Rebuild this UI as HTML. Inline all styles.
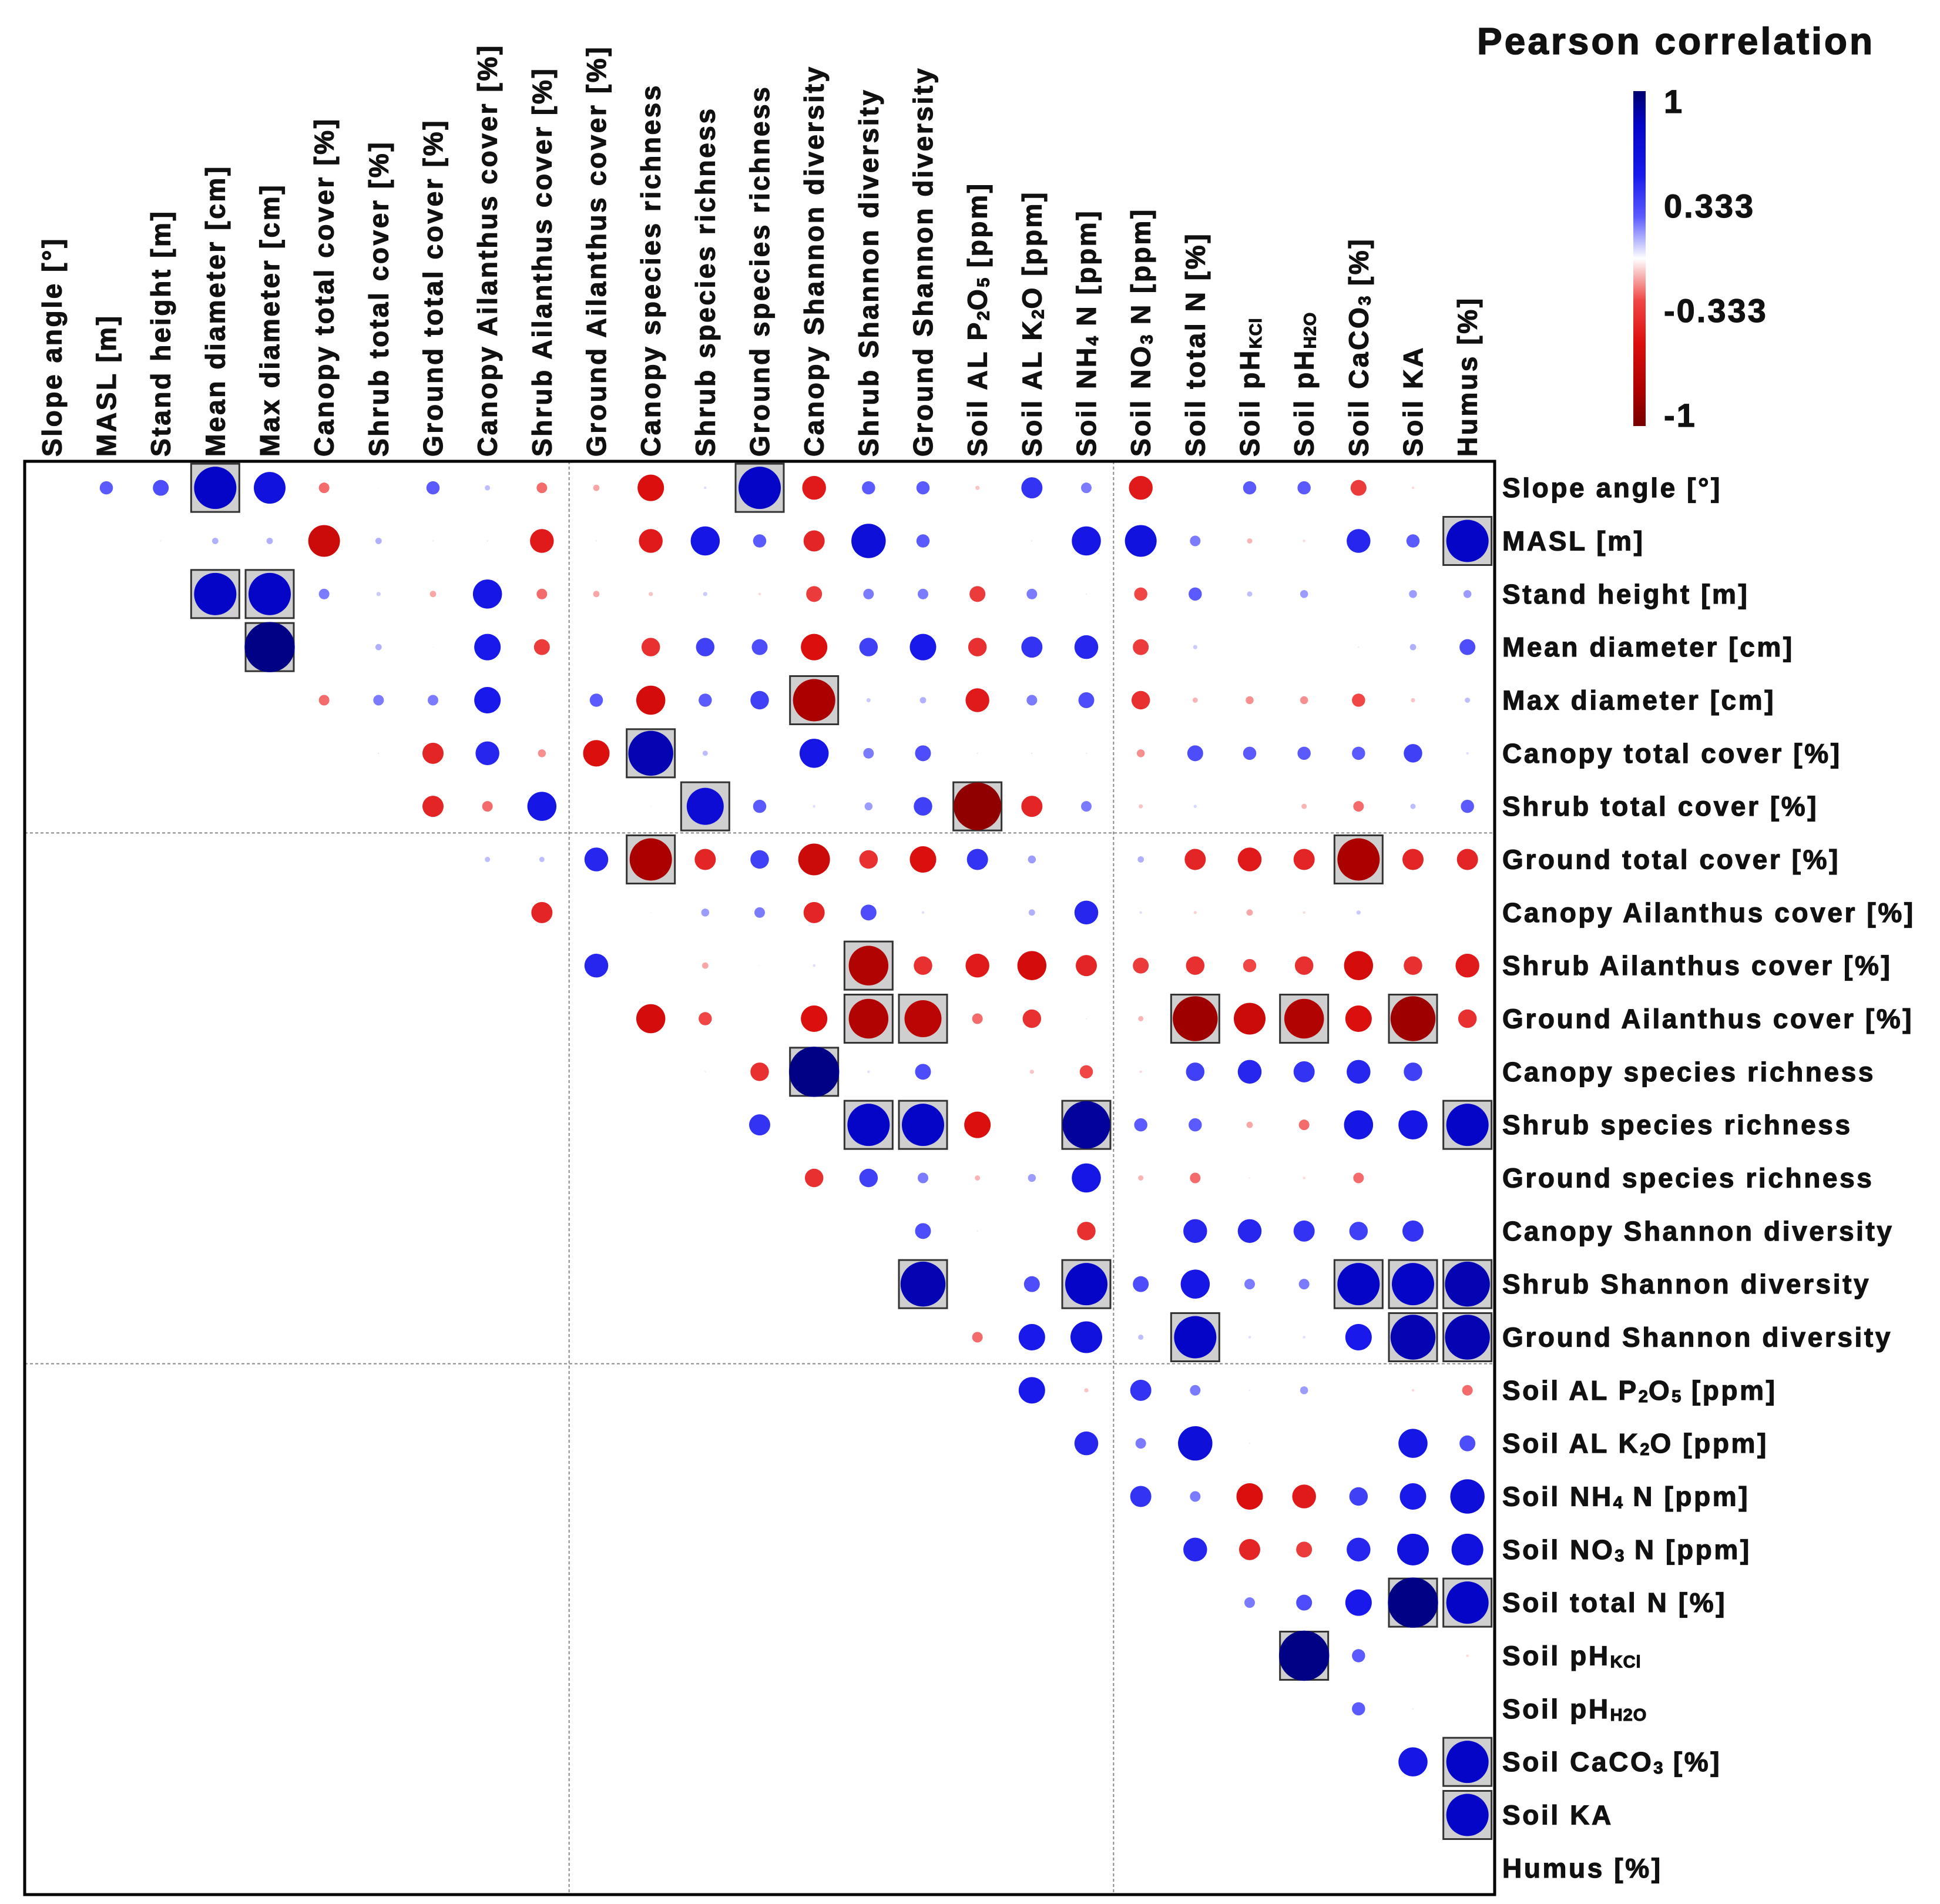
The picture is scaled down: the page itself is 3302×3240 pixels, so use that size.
<!DOCTYPE html>
<html><head><meta charset="utf-8"><style>
html,body{margin:0;padding:0;background:#fff;}
svg{display:block;font-family:"Liberation Sans",Arial,sans-serif;font-weight:bold;}
</style></head><body>
<svg id="chart" width="3302" height="3240" viewBox="0 0 3302 3240" xmlns="http://www.w3.org/2000/svg"></svg>
<script>
// variable labels (parts: [text, isSub])
const labels = [
 [["Slope angle [°]",0]],[["MASL [m]",0]],[["Stand height [m]",0]],[["Mean diameter [cm]",0]],
 [["Max diameter [cm]",0]],[["Canopy total cover [%]",0]],[["Shrub total cover [%]",0]],
 [["Ground total cover [%]",0]],[["Canopy Ailanthus cover [%]",0]],[["Shrub Ailanthus cover [%]",0]],
 [["Ground Ailanthus cover [%]",0]],[["Canopy species richness",0]],[["Shrub species richness",0]],
 [["Ground species richness",0]],[["Canopy Shannon diversity",0]],[["Shrub Shannon diversity",0]],
 [["Ground Shannon diversity",0]],[["Soil AL P",0],["2",1],["O",0],["5",1],[" [ppm]",0]],
 [["Soil AL K",0],["2",1],["O [ppm]",0]],[["Soil NH",0],["4",1],[" N [ppm]",0]],
 [["Soil NO",0],["3",1],[" N [ppm]",0]],[["Soil total N [%]",0]],[["Soil pH",0],["KCl",1]],
 [["Soil pH",0],["H2O",1]],[["Soil CaCO",0],["3",1],[" [%]",0]],[["Soil KA",0]],[["Humus [%]",0]]
];
// correlation values: row i lists r for columns i+1 .. 26
const corrRows = [
 [0.25,0.3,0.8,0.6,-0.2,0.02,0.25,0.1,-0.2,-0.12,-0.5,0.05,0.8,-0.45,0.25,0.25,-0.08,0.4,0.2,-0.45,0,0.25,0.25,-0.3,-0.05,0],
 [-0.03,0.12,0.12,-0.6,0.12,0.03,0.03,-0.45,0.03,-0.45,0.55,0.25,-0.4,0.65,0.25,0,0.03,0.55,0.6,0.2,-0.1,-0.05,0.45,0.25,0.8],
 [0.8,0.8,0.2,0.08,-0.12,0.55,-0.2,-0.12,-0.08,0.08,-0.05,-0.3,0.2,0.2,-0.3,0.2,0.03,-0.25,0.25,0.1,0.15,0,0.15,0.15],
 [0.95,0,0.12,0.02,0.5,-0.3,0,-0.35,0.35,0.3,-0.5,0.35,0.5,-0.35,0.4,0.45,-0.3,0.08,0,0,0.03,0.12,0.3],
 [-0.2,0.2,0.2,0.5,0.02,0.25,-0.55,0.25,0.35,-0.8,0.08,0.12,-0.45,0.2,0.3,-0.35,-0.1,-0.15,-0.15,-0.25,-0.08,0.1],
 [0.03,-0.4,0.45,-0.15,-0.5,0.85,0.1,0,0.55,0.2,0.3,0.03,0.03,0.03,-0.15,0.3,0.25,0.25,0.25,0.35,0.05],
 [-0.4,-0.2,0.55,0,0.02,0.7,0.25,0.05,0.15,0.35,-0.9,-0.4,0.2,-0.08,0.06,0,-0.1,-0.2,0.1,0.25],
 [0.1,0.1,0.45,-0.8,-0.4,0.35,-0.6,-0.35,-0.5,0.4,0.15,0,0.12,-0.4,-0.45,-0.4,-0.8,-0.4,-0.4],
 [-0.4,0,0.02,0.15,0.2,-0.4,0.3,0.05,0,0.12,0.45,0.05,-0.06,-0.12,-0.05,0.08,0,0],
 [0.45,0,-0.12,0.02,0.05,-0.75,-0.35,-0.45,-0.55,-0.4,-0.3,-0.35,-0.25,-0.35,-0.55,-0.35,-0.45],
 [-0.55,-0.25,0,-0.5,-0.75,-0.7,-0.2,-0.35,-0.03,-0.1,-0.85,-0.6,-0.75,-0.5,-0.85,-0.35],
 [-0.03,-0.35,0.95,0.05,0.3,0,-0.08,-0.25,-0.05,0.35,0.45,0.4,0.45,0.35,0],
 [0.4,0,0.8,0.8,-0.5,0,0.9,0.25,0.25,-0.12,-0.2,0.55,0.55,0.8],
 [-0.35,0.35,0.2,-0.1,0.15,0.55,-0.1,-0.2,-0.03,-0.05,-0.2,0,0],
 [0,0.3,-0.03,0,-0.35,0,0.45,0.45,0.4,0.35,0.4,0],
 [0.85,0,0.3,0.8,0.3,0.55,0.2,0.2,0.8,0.8,0.85],
 [-0.2,0.5,0.6,0.1,0.8,0.05,0.05,0.5,0.85,0.85],
 [0.5,-0.08,0.4,0.2,0.03,0.15,0,-0.05,-0.2],
 [0.45,0.2,0.65,-0.03,0,0,0.55,0.3],
 [0.4,0.2,-0.5,-0.45,0.35,0.5,0.65],
 [0.45,-0.4,-0.3,0.45,0.6,0.6],
 [0.2,0.3,0.5,0.95,0.8],
 [0.95,0.25,0,-0.05],
 [0.25,0.03,0],
 [0.55,0.8],
 [0.8],
 []
];
// significant (boxed) cells [row, col]
const sigCells = [[0,3],[0,13],[1,26],[2,3],[2,4],[3,4],[4,14],[5,11],[6,12],[6,17],[7,11],[7,24],
 [9,15],[10,15],[10,16],[10,21],[10,23],[10,25],[11,14],[12,15],[12,16],[12,19],[12,26],
 [15,16],[15,19],[15,24],[15,25],[15,26],[16,21],[16,25],[16,26],[21,25],[21,26],[22,23],[24,26],[25,26]];
const legendTicks = [1,0.333,-0.333,-1];
const legendTickLabels = ["1","0.333","-0.333","-1"];

const NS="http://www.w3.org/2000/svg";
const svg=document.getElementById('chart');
const n=labels.length;
const X0=42,Y0=785,W=2502,H=2439,cw=W/n,ch=H/n,RMAX=45;
const xC=j=>X0+cw*(j+0.5), yC=i=>Y0+ch*(i+0.5);
function mk(t,a,p){const e=document.createElementNS(NS,t);for(const k in a)e.setAttribute(k,a[k]);(p||svg).appendChild(e);return e;}
const stops=[[-1,[120,0,0]],[-0.8,[170,0,0]],[-0.5,[220,15,15]],[-0.25,[240,70,70]],[0,[255,255,255]],[0.25,[90,90,255]],[0.5,[25,25,235]],[0.8,[5,5,200]],[1,[0,0,110]]];
function color(v){for(let k=0;k<stops.length-1;k++){const[a,ca]=stops[k],[b,cb]=stops[k+1];if(v>=a&&v<=b){const t=(v-a)/(b-a);return 'rgb('+ca.map((c,m)=>Math.round(c+(cb[m]-c)*t)).join(',')+')';}}return '#fff';}

// boxes
sigCells.forEach(([i,j])=>{
 const b=mk('rect',{x:xC(j)-41,y:yC(i)-41,width:82,height:82,fill:'#cfcfcf',stroke:'#333','stroke-width':3});
 
 
});
// circles
corrRows.forEach((row,i)=>row.forEach((v,k)=>{
 const j=i+1+k;const r=Math.abs(v)*RMAX;if(r<0.5)return;
 const c=mk('circle',{cx:xC(j),cy:yC(i),r:r,fill:color(v)});
 
 
}));
// dashed separators
[[X0+cw*10,Y0,X0+cw*10,Y0+H],[X0+cw*20,Y0,X0+cw*20,Y0+H],[X0,Y0+ch*7,X0+W,Y0+ch*7],[X0,Y0+ch*17,X0+W,Y0+ch*17]].forEach(l=>{
 const e=mk('line',{x1:l[0],y1:l[1],x2:l[2],y2:l[3],stroke:'#888','stroke-width':2,'stroke-dasharray':'5,4'});
 
 
});
const fr=mk('rect',{x:X0,y:Y0,width:W,height:H,fill:'none',stroke:'#000','stroke-width':5});



const LBL={'font-size':46,fill:'#111','letter-spacing':3.6,stroke:'#111','stroke-width':1.2};
function addParts(t,parts){parts.forEach(([s,sub])=>{const ts=mk('tspan',{},t);ts.textContent=s;if(sub){ts.setAttribute('font-size','29');ts.setAttribute('letter-spacing','1');ts.setAttribute('baseline-shift','-4');}});}
labels.forEach((parts,i)=>{
 const t=mk('text',Object.assign({x:2557,y:yC(i)+16},LBL));
 
 
 addParts(t,parts);
 const x=xC(i)+16;
 const c=mk('text',Object.assign({x:x,y:777,transform:`rotate(-90 ${x} 777)`},LBL));
 
 
 addParts(c,parts);
});
// legend
const lt=mk('text',{x:2514,y:92,'font-size':64,fill:'#111','letter-spacing':4,stroke:'#111','stroke-width':1.5});lt.textContent='Pearson correlation';


const defs=mk('defs',{});const g=mk('linearGradient',{id:'cb',x1:0,y1:0,x2:0,y2:1},defs);
[[0,1],[0.1,0.8],[0.25,0.5],[0.375,0.25],[0.5,0],[0.625,-0.25],[0.75,-0.5],[0.9,-0.8],[1,-1]].forEach(([o,v])=>mk('stop',{offset:o,'stop-color':color(v)},g));
const CB0=155,CB1=725;
const cb=mk('rect',{x:2780,y:CB0,width:21,height:CB1-CB0,fill:'url(#cb)'});


const ly=v=>CB0+18+(1-v)/2*(CB1-CB0-36);
legendTicks.forEach((v,k)=>{
 const t=mk('text',{x:2832,y:ly(v)+19,'font-size':56,fill:'#111','letter-spacing':3,stroke:'#111','stroke-width':1.2});t.textContent=legendTickLabels[k];
 
 
});
</script>
</body></html>
